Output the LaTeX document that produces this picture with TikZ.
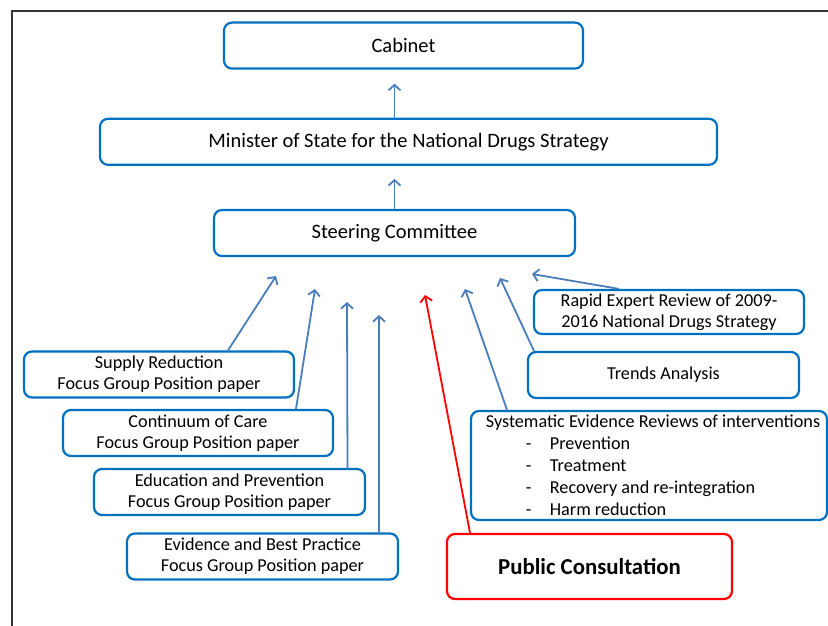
\documentclass[tikz,border=0pt]{standalone}
\usepackage{fontspec}
\setmainfont{Carlito}
\usepackage{xcolor}
\usetikzlibrary{positioning,calc,arrows.meta}

\definecolor{boxblue}{RGB}{0,112,192}
\definecolor{arrowblue}{RGB}{74,126,187}
\definecolor{pcred}{RGB}{255,0,0}

\begin{document}
\begin{tikzpicture}[x=1pt, y=-1pt, node distance=43pt,
        block/.style={draw=boxblue, line width=2.2pt, rounded corners=8pt, fill=white,
            minimum height=46pt, align=center, inner sep=2pt,
            font=\fontsize{18.2}{21}\selectfont},
        topblock/.style={block, font=\fontsize{20.5}{24}\selectfont},
        redblock/.style={block, draw=pcred, font=\fontsize{22.8}{26}\selectfont\bfseries},
        feed/.style={->, draw=arrowblue, line width=1.8pt},
        >={Straight Barb[length=5.5pt, width=12pt]}
    ]
        \useasboundingbox (0,0) rectangle (828,626);
        % outer frame (only top and left edges show)
        \draw [line width=2pt, black!80] (828,11) -- (12,11) -- (12,626);

        \node [topblock, minimum width=361pt] (steering) at (394.5,233) {Steering Committee};
        \node [topblock, minimum width=617pt, above=43pt of steering, xshift=14pt] (minister) {Minister of State for the National Drugs Strategy};
        \node [topblock, minimum width=359pt, above=48pt of minister, xshift=-5pt] (cabinet) {Cabinet};

        \draw [feed] (steering.north) -- ([yshift=-13pt]steering.north |- minister.south);
        \draw [feed] (steering.north |- minister.north) -- ([yshift=-14pt]steering.north |- cabinet.south);

        % focus group position papers
        \node [block, minimum width=270pt] (supply) at (159,374.5) {Supply Reduction\\Focus Group Position paper};
        \node [block, minimum width=270pt] (care) at (198,433) {Continuum of Care\\Focus Group Position paper};
        \node [block, minimum width=271pt] (educ) at (229.5,492) {Education and Prevention\\Focus Group Position paper};
        \node [block, minimum width=271pt] (evid) at (262.5,556.5) {Evidence and Best Practice\\Focus Group Position paper};

        % other inputs
        \node [redblock, minimum width=285pt, minimum height=65pt] (public) at (589.5,566.5) {Public Consultation};
        \node [block, minimum width=356pt, minimum height=109pt, align=left, font=\fontsize{18.2}{22}\selectfont] (system) at (649,465.5)
            {\hspace*{8pt}Systematic Evidence Reviews of interventions\\
             \hspace*{48pt}\makebox[24pt][l]{-}Prevention\\
             \hspace*{48pt}\makebox[24pt][l]{-}Treatment\\
             \hspace*{48pt}\makebox[24pt][l]{-}Recovery and re-integration\\
             \hspace*{48pt}\makebox[24pt][l]{-}Harm reduction};
        \node [block, minimum width=271pt] (trends) at (663.5,375) {Trends Analysis};
        \node [block, minimum width=270pt, minimum height=44pt] (rapid) at (669,312) {Rapid Expert Review of 2009-\\2016 National Drugs Strategy};

        % free ends below the steering committee
        \coordinate (t_supply) at (276,276);
        \coordinate (t_care) at (315,289);
        \coordinate (t_educ) at (347,302);
        \coordinate (t_evid) at (379,315);
        \coordinate (t_public) at (425,295);
        \coordinate (t_system) at (465,289);
        \coordinate (t_trends) at (500,278);
        \coordinate (t_rapid) at (532,274);

        \draw [feed] ([xshift=69pt]supply.north) -- (t_supply);
        \draw [feed] ([xshift=98pt]care.north) -- (t_care);
        \draw [feed] ([xshift=118pt]educ.north) -- (t_educ);
        \draw [feed] ([xshift=116.5pt]evid.north) -- (t_evid);
        \draw [feed, draw=pcred] ([xshift=-119.5pt]public.north) -- (t_public);
        \draw [feed] ([xshift=-142pt]system.north) -- (t_system);
        \draw [feed] ([xshift=-129.5pt]trends.north) -- (t_trends);
        \draw [feed] ([xshift=-50pt]rapid.north) -- (t_rapid);
    \end{tikzpicture}
\end{document}
